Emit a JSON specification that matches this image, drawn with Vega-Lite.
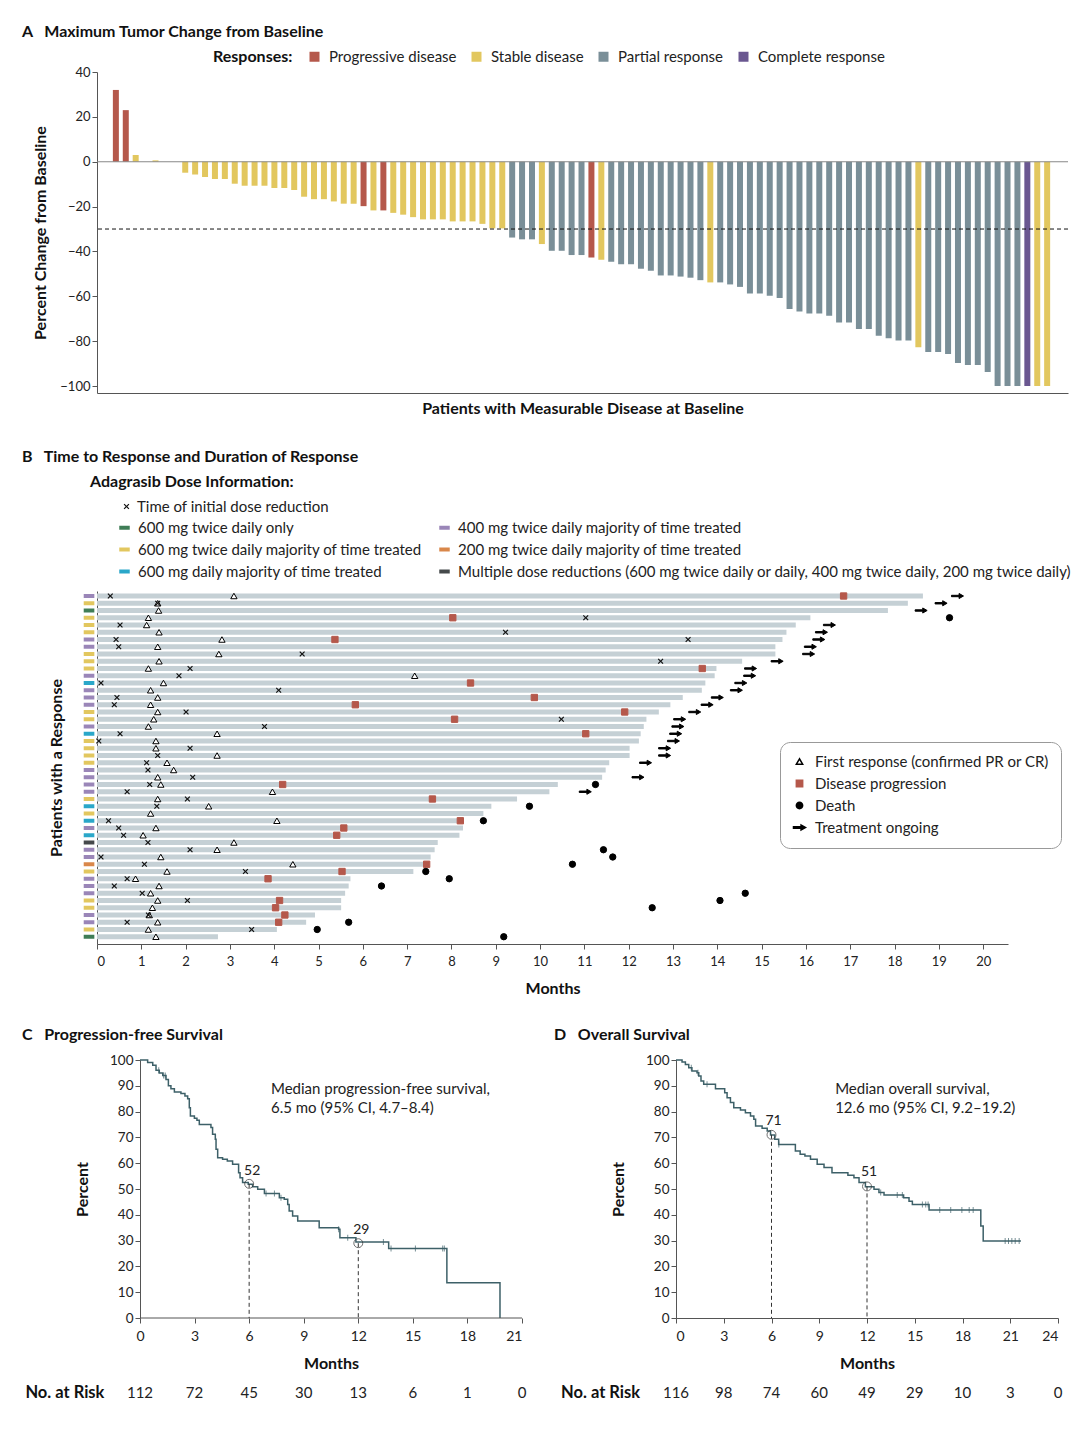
{
"$schema": "https://vega.github.io/schema/vega-lite/v6.json",
"background": "white",
"padding": {"left": 22, "top": 24, "right": 5, "bottom": 5},
"columns": 1,
"spacing": 31,
"align": "none",
"resolve": {"scale": {"color": "independent", "shape": "independent", "fill": "independent", "stroke": "independent", "size": "independent"}},
"config": {
  "font": "Lato",
  "view": {"stroke": null},
  "axis": {"domainColor": "#555", "tickColor": "#555", "labelColor": "#222", "labelFontSize": 13, "titleFontSize": 16, "titleColor": "#111", "titleFontWeight": "bold", "grid": false, "tickSize": 5, "labelOverlap": false, "labelSeparation": 0},
  "axisY": {"labelOverlap": false},
  "axisQuantitative": {"labelOverlap": false},
  "legend": {"labelFontSize": 15, "titleFontSize": 16, "labelColor": "#222", "titleColor": "#111", "titleFontWeight": "bold", "labelLimit": 800, "titleLimit": 800},
  "title": {"fontSize": 16, "fontWeight": "bold", "color": "#111", "anchor": "start", "frame": "group"}
},
"concat": [
{
"columns": 1,
"spacing": 33,
"align": "none",
"resolve": {"scale": {"color": "independent", "shape": "independent", "fill": "independent", "stroke": "independent", "size": "independent"}},
"concat": [
{
  "width": 971, "height": 321,
  "title": {"text": "A\u00a0\u00a0\u00a0Maximum Tumor Change from Baseline", "dx": -75, "offset": 9},
  "layer": [
    {
      "data": {"values": [
        {"idx":1,"val":32,"resp":"Progressive disease"},{"idx":2,"val":23,"resp":"Progressive disease"},{"idx":3,"val":3,"resp":"Stable disease"},{"idx":4,"val":0,"resp":"Stable disease"},{"idx":5,"val":0.6,"resp":"Stable disease"},{"idx":6,"val":0,"resp":"Stable disease"},{"idx":7,"val":0,"resp":"Stable disease"},
        {"idx":8,"val":-4.9,"resp":"Stable disease"},{"idx":9,"val":-5.7,"resp":"Stable disease"},{"idx":10,"val":-6.8,"resp":"Stable disease"},{"idx":11,"val":-7.7,"resp":"Stable disease"},{"idx":12,"val":-7.7,"resp":"Stable disease"},{"idx":13,"val":-9.8,"resp":"Stable disease"},{"idx":14,"val":-10.7,"resp":"Stable disease"},{"idx":15,"val":-10.7,"resp":"Stable disease"},{"idx":16,"val":-10.7,"resp":"Stable disease"},{"idx":17,"val":-11.7,"resp":"Stable disease"},{"idx":18,"val":-11.7,"resp":"Stable disease"},{"idx":19,"val":-12.6,"resp":"Stable disease"},{"idx":20,"val":-15.6,"resp":"Stable disease"},{"idx":21,"val":-16.7,"resp":"Stable disease"},{"idx":22,"val":-16.7,"resp":"Stable disease"},{"idx":23,"val":-17.7,"resp":"Stable disease"},{"idx":24,"val":-18.7,"resp":"Stable disease"},{"idx":25,"val":-18.7,"resp":"Stable disease"},
        {"idx":26,"val":-19.8,"resp":"Progressive disease"},{"idx":27,"val":-21.7,"resp":"Stable disease"},{"idx":28,"val":-21.7,"resp":"Progressive disease"},{"idx":29,"val":-22.8,"resp":"Stable disease"},{"idx":30,"val":-23.6,"resp":"Stable disease"},{"idx":31,"val":-24.7,"resp":"Stable disease"},{"idx":32,"val":-25.7,"resp":"Stable disease"},{"idx":33,"val":-25.7,"resp":"Stable disease"},{"idx":34,"val":-25.7,"resp":"Stable disease"},{"idx":35,"val":-26.6,"resp":"Stable disease"},{"idx":36,"val":-26.6,"resp":"Stable disease"},{"idx":37,"val":-26.6,"resp":"Stable disease"},{"idx":38,"val":-27.7,"resp":"Stable disease"},{"idx":39,"val":-29.7,"resp":"Stable disease"},{"idx":40,"val":-29.7,"resp":"Stable disease"},
        {"idx":41,"val":-33.8,"resp":"Partial response"},{"idx":42,"val":-34.6,"resp":"Partial response"},{"idx":43,"val":-34.6,"resp":"Partial response"},{"idx":44,"val":-36.7,"resp":"Stable disease"},{"idx":45,"val":-39.7,"resp":"Partial response"},{"idx":46,"val":-39.7,"resp":"Partial response"},{"idx":47,"val":-41.6,"resp":"Partial response"},{"idx":48,"val":-41.6,"resp":"Partial response"},{"idx":49,"val":-42.7,"resp":"Progressive disease"},{"idx":50,"val":-43.7,"resp":"Stable disease"},
        {"idx":51,"val":-44.6,"resp":"Partial response"},{"idx":52,"val":-45.7,"resp":"Partial response"},{"idx":53,"val":-45.7,"resp":"Partial response"},{"idx":54,"val":-47.7,"resp":"Partial response"},{"idx":55,"val":-48.6,"resp":"Partial response"},{"idx":56,"val":-50.7,"resp":"Partial response"},{"idx":57,"val":-50.7,"resp":"Partial response"},{"idx":58,"val":-51.2,"resp":"Partial response"},{"idx":59,"val":-51.7,"resp":"Partial response"},{"idx":60,"val":-52.8,"resp":"Partial response"},{"idx":61,"val":-53.8,"resp":"Stable disease"},{"idx":62,"val":-53.8,"resp":"Partial response"},{"idx":63,"val":-54.7,"resp":"Partial response"},{"idx":64,"val":-55.8,"resp":"Partial response"},{"idx":65,"val":-58.7,"resp":"Partial response"},{"idx":66,"val":-58.7,"resp":"Partial response"},{"idx":67,"val":-59.8,"resp":"Partial response"},{"idx":68,"val":-60.7,"resp":"Partial response"},{"idx":69,"val":-65.7,"resp":"Partial response"},{"idx":70,"val":-66.8,"resp":"Partial response"},
        {"idx":71,"val":-67.7,"resp":"Partial response"},{"idx":72,"val":-67.7,"resp":"Partial response"},{"idx":73,"val":-68.7,"resp":"Partial response"},{"idx":74,"val":-71.7,"resp":"Partial response"},{"idx":75,"val":-71.7,"resp":"Partial response"},{"idx":76,"val":-74.6,"resp":"Partial response"},{"idx":77,"val":-74.6,"resp":"Partial response"},{"idx":78,"val":-77.6,"resp":"Partial response"},{"idx":79,"val":-78.7,"resp":"Partial response"},{"idx":80,"val":-79.7,"resp":"Partial response"},{"idx":81,"val":-79.7,"resp":"Partial response"},{"idx":82,"val":-82.7,"resp":"Stable disease"},{"idx":83,"val":-84.8,"resp":"Partial response"},{"idx":84,"val":-84.8,"resp":"Partial response"},{"idx":85,"val":-85.7,"resp":"Partial response"},{"idx":86,"val":-89.7,"resp":"Partial response"},{"idx":87,"val":-90.6,"resp":"Partial response"},{"idx":88,"val":-90.6,"resp":"Partial response"},{"idx":89,"val":-93.7,"resp":"Partial response"},{"idx":90,"val":-100,"resp":"Partial response"},
        {"idx":91,"val":-100,"resp":"Partial response"},{"idx":92,"val":-100,"resp":"Partial response"},{"idx":93,"val":-100,"resp":"Complete response"},{"idx":94,"val":-100,"resp":"Stable disease"},{"idx":95,"val":-100,"resp":"Stable disease"}
      ]},
      "mark": {"type": "bar", "width": 6},
      "encoding": {
        "x": {"field": "idx", "type": "quantitative", "scale": {"domain": [-0.4, 96.6], "nice": false, "zero": false},
              "axis": {"title": "Patients with Measurable Disease at Baseline", "labels": false, "ticks": false, "titlePadding": 7}},
        "y": {"field": "val", "type": "quantitative", "scale": {"domain": [-103.1, 40], "nice": false},
              "axis": {"values": [40, 20, 0, -20, -40, -60, -80, -100], "title": "Percent Change from Baseline", "titlePadding": 11}},
        "y2": {"datum": 0},
        "color": {"field": "resp", "type": "nominal",
          "scale": {"domain": ["Progressive disease", "Stable disease", "Partial response", "Complete response"], "range": ["#b5584b", "#e2c75f", "#7a8f98", "#6a5790"]},
          "legend": {"title": "Responses:", "orient": "none", "legendX": 116, "legendY": -23, "direction": "horizontal", "titleOrient": "left", "symbolType": "square", "symbolSize": 100, "columnPadding": 12, "titlePadding": 14, "labelOffset": 7}}
      }
    },
    {"data": {"values": [{}]}, "mark": {"type": "rule", "color": "#888", "strokeWidth": 1.2}, "encoding": {"y": {"datum": 0}}},
    {"data": {"values": [{}]}, "mark": {"type": "rule", "color": "#111", "strokeDash": [4, 3], "strokeWidth": 1}, "encoding": {"y": {"datum": -30}}}
  ]
},
{
  "width": 911, "height": 353,
  "title": {"text": "B\u00a0\u00a0\u00a0Time to Response and Duration of Response", "dx": -75, "offset": 9},
  "layer": [
    {
      "data": {"name": "patients"},
      "mark": {"type": "rule", "strokeWidth": 5, "color": "#c5d0d5", "strokeCap": "butt"},
      "encoding": {
        "x": {"field": "dur", "type": "quantitative", "scale": {"domain": [0, 20.56], "nice": false, "zero": false},
              "axis": {"values": [0,1,2,3,4,5,6,7,8,9,10,11,12,13,14,15,16,17,18,19,20], "title": "Months", "labelPadding": 6, "titlePadding": 12}},
        "x2": {"datum": 0},
        "y": {"field": "row", "type": "quantitative", "scale": {"domain": [0.31, 49], "reverse": true, "nice": false, "zero": false},
              "axis": {"title": "Patients with a Response", "labels": false, "ticks": false, "titlePadding": 33}}
      }
    },
    {
      "data": {"name": "patients"},
      "mark": {"type": "rule", "strokeWidth": 4, "strokeCap": "butt"},
      "encoding": {
        "x": {"datum": -0.3},
        "x2": {"datum": -0.06},
        "y": {"field": "row", "type": "quantitative"},
        "color": {"field": "dose", "type": "nominal",
          "scale": {"domain": ["g", "y", "c", "p", "o", "m"], "range": ["#3f7d56", "#e2c75f", "#2aa7c9", "#9a86b8", "#d9874a", "#45494b"]},
          "legend": {"title": null, "orient": "none", "legendX": 20, "legendY": -71, "columns": 2, "columnPadding": 8, "rowPadding": 5, "symbolType": "stroke", "symbolStrokeWidth": 4, "symbolSize": 110, "labelOffset": 6,
            "labelExpr": "datum.label == 'g' ? '600 mg twice daily only' : datum.label == 'p' ? '400 mg twice daily majority of time treated' : datum.label == 'y' ? '600 mg twice daily majority of time treated' : datum.label == 'o' ? '200 mg twice daily majority of time treated' : datum.label == 'c' ? '600 mg daily majority of time treated' : 'Multiple dose reductions (600 mg twice daily or daily, 400 mg twice daily, 200 mg twice daily)'"}}
      }
    },
    {
      "data": {"name": "patients"},
      "transform": [{"fold": ["resp", "prog", "death", "ongoing"], "as": ["ev", "t"]}, {"filter": "isValid(datum.t)"}],
      "mark": {"type": "point", "filled": true, "size": 40, "strokeWidth": 1, "opacity": 1},
      "encoding": {
        "x": {"field": "t", "type": "quantitative"},
        "y": {"field": "row", "type": "quantitative"},
        "shape": {"field": "ev", "type": "nominal", "scale": {"domain": ["resp", "prog", "death", "ongoing"], "range": ["triangle-up", "square", "circle", "M-1.9,-0.22L0.5,-0.22L0.5,-0.8L1.9,0L0.5,0.8L0.5,0.22L-1.9,0.22Z"]},
          "legend": {"title": null, "orient": "none", "legendX": 683, "legendY": 151, "strokeColor": "#999", "cornerRadius": 10, "padding": 12, "fillColor": "white", "rowPadding": 6, "symbolSize": 40, "labelOffset": 8,
            "labelExpr": "datum.label == 'resp' ? 'First response (confirmed PR or CR)' : datum.label == 'prog' ? 'Disease progression' : datum.label == 'death' ? 'Death' : 'Treatment ongoing'"}},
        "fill": {"field": "ev", "type": "nominal", "scale": {"domain": ["resp", "prog", "death", "ongoing"], "range": ["white", "#b5584b", "black", "black"]}},
        "stroke": {"field": "ev", "type": "nominal", "scale": {"domain": ["resp", "prog", "death", "ongoing"], "range": ["black", "#b5584b", "black", "black"]}}
      }
    },
    {
      "data": {"values": [
        {"row":1,"t":0.30,"kind":"x"},{"row":2,"t":1.37,"kind":"x"},{"row":4,"t":11.03,"kind":"x"},{"row":5,"t":0.52,"kind":"x"},{"row":6,"t":9.22,"kind":"x"},{"row":7,"t":0.43,"kind":"x"},{"row":7,"t":13.34,"kind":"x"},{"row":8,"t":0.49,"kind":"x"},{"row":9,"t":4.63,"kind":"x"},{"row":10,"t":12.72,"kind":"x"},
        {"row":11,"t":2.10,"kind":"x"},{"row":12,"t":1.85,"kind":"x"},{"row":13,"t":0.09,"kind":"x"},{"row":14,"t":4.10,"kind":"x"},{"row":15,"t":0.45,"kind":"x"},{"row":16,"t":0.39,"kind":"x"},{"row":17,"t":2.01,"kind":"x"},{"row":18,"t":10.48,"kind":"x"},{"row":19,"t":3.78,"kind":"x"},{"row":20,"t":0.52,"kind":"x"},
        {"row":21,"t":0.04,"kind":"x"},{"row":22,"t":2.10,"kind":"x"},{"row":23,"t":1.37,"kind":"x"},{"row":24,"t":1.12,"kind":"x"},{"row":25,"t":1.15,"kind":"x"},{"row":26,"t":2.16,"kind":"x"},{"row":27,"t":1.19,"kind":"x"},{"row":28,"t":0.68,"kind":"x"},{"row":29,"t":2.04,"kind":"x"},{"row":30,"t":1.35,"kind":"x"},
        {"row":32,"t":0.26,"kind":"x"},{"row":33,"t":0.49,"kind":"x"},{"row":34,"t":0.60,"kind":"x"},{"row":35,"t":1.15,"kind":"x"},{"row":36,"t":2.10,"kind":"x"},{"row":37,"t":0.09,"kind":"x"},{"row":38,"t":1.07,"kind":"x"},{"row":39,"t":3.35,"kind":"x"},{"row":40,"t":0.68,"kind":"x"},{"row":41,"t":0.39,"kind":"x"},
        {"row":42,"t":1.02,"kind":"x"},{"row":43,"t":2.04,"kind":"x"},{"row":45,"t":1.16,"kind":"x"},{"row":46,"t":0.68,"kind":"x"},{"row":47,"t":3.49,"kind":"x"}
      ]},
      "mark": {"type": "point", "filled": true, "color": "#111", "shape": "M-1,-0.7L-0.7,-1L0,-0.3L0.7,-1L1,-0.7L0.3,0L1,0.7L0.7,1L0,0.3L-0.7,1L-1,0.7L-0.3,0Z", "opacity": 1},
      "encoding": {
        "x": {"field": "t", "type": "quantitative"},
        "y": {"field": "row", "type": "quantitative"},
        "size": {"field": "kind", "type": "nominal", "scale": {"domain": ["x"], "range": [32, 32]},
          "legend": {"title": "Adagrasib Dose Information:", "orient": "none", "legendX": -7, "legendY": -117, "titlePadding": 9, "symbolOffset": 29, "symbolType": "M-1,-0.7L-0.7,-1L0,-0.3L0.7,-1L1,-0.7L0.3,0L1,0.7L0.7,1L0,0.3L-0.7,1L-1,0.7L-0.3,0Z", "symbolFillColor": "#111", "symbolStrokeWidth": 0, "labelOffset": 3,
            "labelExpr": "'Time of initial dose reduction'"}}
      }
    }
  ]
}
]
},
{
  "hconcat": [
  {
    "width": 425, "height": 258,
    "title": {"text": "C\u00a0\u00a0\u00a0Progression-free Survival", "dx": -75, "offset": 10},
    "layer": [
      {
        "data": {"values": [
          {"t":0,"s":100},{"t":0.42,"s":99},{"t":0.70,"s":98},{"t":0.88,"s":96},{"t":1.06,"s":95},{"t":1.25,"s":94},{"t":1.43,"s":92.4},{"t":1.56,"s":90},{"t":1.70,"s":88.9},{"t":1.89,"s":87.6},{"t":2.25,"s":87},{"t":2.47,"s":86},{"t":2.62,"s":85},{"t":2.71,"s":81.5},{"t":2.77,"s":78.3},{"t":2.99,"s":77.4},{"t":3.13,"s":76.6},{"t":3.26,"s":75},{"t":3.9,"s":73.8},{"t":3.99,"s":71.2},{"t":4.14,"s":69.3},{"t":4.18,"s":65.4},{"t":4.27,"s":62.1},{"t":4.54,"s":61.5},{"t":4.8,"s":60.9},{"t":5.09,"s":59.6},{"t":5.42,"s":56.3},{"t":5.5,"s":54.4},{"t":5.64,"s":52.5},{"t":5.95,"s":51.8},{"t":6.19,"s":50.9},{"t":6.47,"s":49.9},{"t":6.84,"s":48.3},{"t":7.66,"s":46.6},{"t":7.93,"s":46},{"t":8.12,"s":44},{"t":8.2,"s":41.5},{"t":8.39,"s":39.5},{"t":8.67,"s":37.6},{"t":9.85,"s":35},{"t":10.92,"s":34.4},{"t":10.99,"s":31.1},{"t":11.87,"s":29.5},{"t":13.67,"s":26.9},{"t":16.87,"s":13.7},{"t":19.79,"s":0}
        ]},
        "mark": {"type": "line", "interpolate": "step-after", "color": "#3d6068", "strokeWidth": 1.5},
        "encoding": {
          "x": {"field": "t", "type": "quantitative", "scale": {"domain": [-2.364, 21], "nice": false, "zero": false}, "axis": {"values": [0,3,6,9,12,15,18,21], "domain": false, "title": "Months", "titleX": 234, "labelFontSize": 14, "labelPadding": 6, "titlePadding": 12}},
          "y": {"field": "s", "type": "quantitative", "scale": {"domain": [0, 100], "nice": false}, "axis": {"values": [0,10,20,30,40,50,60,70,80,90,100], "tickCount": 11, "labelOverlap": false, "labelSeparation": 0, "labelFontSize": 13.5, "title": "Percent", "offset": -43, "titlePadding": 19}}
        }
      },
      {
        "data": {"values": [{"t0":0,"t1":21,"b":0}]},
        "mark": {"type": "rule", "color": "#555", "strokeWidth": 1},
        "encoding": {"x": {"field": "t0", "type": "quantitative"}, "x2": {"field": "t1"}, "y": {"field": "b", "type": "quantitative"}}
      },
      {
        "data": {"values": [{"t":1.03,"s":96},{"t":1.30,"s":94},{"t":1.39,"s":94},{"t":6.93,"s":48.3},{"t":7.39,"s":48.3},{"t":7.75,"s":46.6},{"t":10.92,"s":34.4},{"t":11.42,"s":31.1},{"t":13.38,"s":29.5},{"t":13.8,"s":26.9},{"t":15.14,"s":26.9},{"t":16.64,"s":26.9},{"t":16.73,"s":26.9}]},
        "mark": {"type": "tick", "orient": "vertical", "size": 6, "thickness": 1, "color": "#3d6068"},
        "encoding": {"x": {"field": "t", "type": "quantitative"}, "y": {"field": "s", "type": "quantitative"}}
      },
      {
        "data": {"values": [{"t":6,"s":52,"z":0},{"t":12,"s":29,"z":0}]},
        "mark": {"type": "rule", "strokeDash": [4, 3], "color": "#333", "strokeWidth": 1},
        "encoding": {"x": {"field": "t", "type": "quantitative"}, "y": {"field": "s", "type": "quantitative"}, "y2": {"field": "z"}}
      },
      {
        "data": {"values": [{"t":6,"s":52},{"t":12,"s":29}]},
        "mark": {"type": "point", "shape": "circle", "size": 80, "filled": false, "color": "#333", "strokeWidth": 1},
        "encoding": {"x": {"field": "t", "type": "quantitative"}, "y": {"field": "s", "type": "quantitative"}}
      },
      {
        "data": {"values": [{"t":6,"s":52,"lab":"52"},{"t":12,"s":29,"lab":"29"}]},
        "mark": {"type": "text", "dy": -13, "dx": 3, "fontSize": 14, "color": "#222"},
        "encoding": {"x": {"field": "t", "type": "quantitative"}, "y": {"field": "s", "type": "quantitative"}, "text": {"field": "lab"}}
      },
      {
        "data": {"values": [{"t":7.2,"s":91.5,"txt":"Median progression-free survival,\n6.5 mo (95% CI, 4.7–8.4)"}]},
        "mark": {"type": "text", "align": "left", "baseline": "top", "lineBreak": "\n", "fontSize": 15, "lineHeight": 19, "color": "#222"},
        "encoding": {"x": {"field": "t", "type": "quantitative"}, "y": {"field": "s", "type": "quantitative"}, "text": {"field": "txt"}}
      },
      {
        "data": {"values": [{"t":0,"n":"112","r":-29},{"t":3,"n":"72","r":-29},{"t":6,"n":"45","r":-29},{"t":9,"n":"30","r":-29},{"t":12,"n":"13","r":-29},{"t":15,"n":"6","r":-29},{"t":18,"n":"1","r":-29},{"t":21,"n":"0","r":-29}]},
        "mark": {"type": "text", "fontSize": 15, "color": "#222", "baseline": "middle"},
        "encoding": {"x": {"field": "t", "type": "quantitative"}, "y": {"field": "r", "type": "quantitative"}, "text": {"field": "n"}}
      },
      {
        "data": {"values": [{"t":-6.3,"r":-29,"lab":"No. at Risk"}]},
        "mark": {"type": "text", "fontSize": 16.5, "fontWeight": "bold", "color": "#111", "align": "left", "baseline": "middle"},
        "encoding": {"x": {"field": "t", "type": "quantitative"}, "y": {"field": "r", "type": "quantitative"}, "text": {"field": "lab"}}
      }
    ]
  },
  {
    "width": 382, "height": 258,
    "title": {"text": "D\u00a0\u00a0\u00a0Overall Survival", "dx": -122, "offset": 10},
    "layer": [
      {
        "data": {"values": [
          {"t":0,"s":100},{"t":0.38,"s":99.2},{"t":0.59,"s":98.3},{"t":0.8,"s":97},{"t":1.0,"s":95.7},{"t":1.32,"s":95.1},{"t":1.43,"s":93.8},{"t":1.57,"s":91.9},{"t":1.74,"s":90.6},{"t":2.48,"s":88.9},{"t":3.06,"s":87.3},{"t":3.21,"s":85.4},{"t":3.42,"s":83.5},{"t":3.63,"s":81.5},{"t":4.05,"s":80.6},{"t":4.36,"s":79.6},{"t":4.68,"s":78.3},{"t":4.89,"s":77},{"t":5.0,"s":74.4},{"t":5.41,"s":73.5},{"t":5.73,"s":72.5},{"t":5.94,"s":70.9},{"t":6.2,"s":69.3},{"t":6.45,"s":67.2},{"t":7.5,"s":64.7},{"t":7.8,"s":63.5},{"t":8.1,"s":62.8},{"t":8.45,"s":61.5},{"t":8.87,"s":59.6},{"t":9.3,"s":58.3},{"t":9.8,"s":56.3},{"t":10.8,"s":55.3},{"t":11.18,"s":54.4},{"t":11.5,"s":52.5},{"t":11.9,"s":50.9},{"t":12.44,"s":49.9},{"t":12.75,"s":48.6},{"t":13.07,"s":47.7},{"t":14.3,"s":46.6},{"t":14.64,"s":45.3},{"t":14.85,"s":44},{"t":15.9,"s":41.9},{"t":19.15,"s":35.7},{"t":19.3,"s":29.8},{"t":21.67,"s":29.8}
        ]},
        "mark": {"type": "line", "interpolate": "step-after", "color": "#3d6068", "strokeWidth": 1.5},
        "encoding": {
          "x": {"field": "t", "type": "quantitative", "scale": {"domain": [0, 24], "nice": false}, "axis": {"values": [0,3,6,9,12,15,18,21,24], "title": "Months", "labelFontSize": 14, "labelPadding": 6, "titlePadding": 12}},
          "y": {"field": "s", "type": "quantitative", "scale": {"domain": [0, 100], "nice": false}, "axis": {"values": [0,10,20,30,40,50,60,70,80,90,100], "tickCount": 11, "labelOverlap": false, "labelSeparation": 0, "labelFontSize": 13.5, "title": "Percent", "titlePadding": 19}}
        }
      },
      {
        "data": {"values": [{"t":0.96,"s":97},{"t":1.38,"s":95.1},{"t":1.95,"s":90.6},{"t":6.46,"s":67.2},{"t":12.86,"s":48.6},{"t":13.9,"s":47.7},{"t":14.22,"s":47.7},{"t":15.48,"s":44},{"t":15.69,"s":44},{"t":15.84,"s":44},{"t":16.57,"s":41.9},{"t":17.26,"s":41.9},{"t":17.96,"s":41.9},{"t":18.42,"s":41.9},{"t":18.67,"s":41.9},{"t":20.68,"s":29.8},{"t":20.89,"s":29.8},{"t":21.1,"s":29.8},{"t":21.31,"s":29.8},{"t":21.56,"s":29.8}]},
        "mark": {"type": "tick", "orient": "vertical", "size": 6, "thickness": 1, "color": "#3d6068"},
        "encoding": {"x": {"field": "t", "type": "quantitative"}, "y": {"field": "s", "type": "quantitative"}}
      },
      {
        "data": {"values": [{"t":6,"s":71,"z":0},{"t":12,"s":51,"z":0}]},
        "mark": {"type": "rule", "strokeDash": [4, 3], "color": "#333", "strokeWidth": 1},
        "encoding": {"x": {"field": "t", "type": "quantitative"}, "y": {"field": "s", "type": "quantitative"}, "y2": {"field": "z"}}
      },
      {
        "data": {"values": [{"t":6,"s":71},{"t":12,"s":51}]},
        "mark": {"type": "point", "shape": "circle", "size": 80, "filled": false, "color": "#333", "strokeWidth": 1},
        "encoding": {"x": {"field": "t", "type": "quantitative"}, "y": {"field": "s", "type": "quantitative"}}
      },
      {
        "data": {"values": [{"t":6,"s":71,"lab":"71"},{"t":12,"s":51,"lab":"51"}]},
        "mark": {"type": "text", "dy": -14, "dx": 2, "fontSize": 14, "color": "#222"},
        "encoding": {"x": {"field": "t", "type": "quantitative"}, "y": {"field": "s", "type": "quantitative"}, "text": {"field": "lab"}}
      },
      {
        "data": {"values": [{"t":10.0,"s":91.5,"txt":"Median overall survival,\n12.6 mo (95% CI, 9.2–19.2)"}]},
        "mark": {"type": "text", "align": "left", "baseline": "top", "lineBreak": "\n", "fontSize": 15, "lineHeight": 19, "color": "#222"},
        "encoding": {"x": {"field": "t", "type": "quantitative"}, "y": {"field": "s", "type": "quantitative"}, "text": {"field": "txt"}}
      },
      {
        "data": {"values": [{"t":0,"n":"116","r":-29},{"t":3,"n":"98","r":-29},{"t":6,"n":"74","r":-29},{"t":9,"n":"60","r":-29},{"t":12,"n":"49","r":-29},{"t":15,"n":"29","r":-29},{"t":18,"n":"10","r":-29},{"t":21,"n":"3","r":-29},{"t":24,"n":"0","r":-29}]},
        "mark": {"type": "text", "fontSize": 15, "color": "#222", "baseline": "middle"},
        "encoding": {"x": {"field": "t", "type": "quantitative"}, "y": {"field": "r", "type": "quantitative"}, "text": {"field": "n"}}
      },
      {
        "data": {"values": [{"t":-7.22,"r":-29,"lab":"No. at Risk"}]},
        "mark": {"type": "text", "fontSize": 16.5, "fontWeight": "bold", "color": "#111", "align": "left", "baseline": "middle"},
        "encoding": {"x": {"field": "t", "type": "quantitative"}, "y": {"field": "r", "type": "quantitative"}, "text": {"field": "lab"}}
      }
    ]
  }
  ],
  "spacing": 27
}
],
"datasets": {
  "patients": [
    {"row":1,"dose":"p","dur":18.64,"resp":3.09,"prog":16.85,"ongoing":19.42},
    {"row":2,"dose":"y","dur":18.3,"resp":1.37,"ongoing":19.05},
    {"row":3,"dose":"g","dur":17.85,"resp":1.39,"ongoing":18.6},
    {"row":4,"dose":"y","dur":16.1,"resp":1.16,"prog":8.03,"death":19.24},
    {"row":5,"dose":"y","dur":15.77,"resp":1.12,"ongoing":16.53},
    {"row":6,"dose":"y","dur":15.56,"resp":1.4,"ongoing":16.35},
    {"row":7,"dose":"p","dur":15.47,"resp":2.82,"prog":5.37,"ongoing":16.29},
    {"row":8,"dose":"p","dur":15.31,"resp":1.37,"ongoing":16.1},
    {"row":9,"dose":"y","dur":15.31,"resp":2.75,"ongoing":16.06},
    {"row":10,"dose":"y","dur":14.56,"resp":1.4,"ongoing":15.35},
    {"row":11,"dose":"y","dur":13.98,"resp":1.16,"prog":13.66,"ongoing":14.75},
    {"row":12,"dose":"p","dur":13.94,"resp":7.17,"ongoing":14.73},
    {"row":13,"dose":"c","dur":13.73,"resp":1.5,"prog":8.43,"ongoing":14.53},
    {"row":14,"dose":"p","dur":13.65,"resp":1.21,"ongoing":14.43},
    {"row":15,"dose":"p","dur":13.22,"resp":1.37,"prog":9.87,"ongoing":14.0},
    {"row":16,"dose":"p","dur":12.94,"resp":1.21,"prog":5.83,"ongoing":13.77},
    {"row":17,"dose":"y","dur":12.68,"resp":1.37,"prog":11.91,"ongoing":13.49},
    {"row":18,"dose":"y","dur":12.4,"resp":1.28,"prog":8.07,"ongoing":13.15},
    {"row":19,"dose":"p","dur":12.34,"resp":1.16,"ongoing":13.11},
    {"row":20,"dose":"c","dur":12.27,"resp":2.71,"prog":11.03,"ongoing":13.06},
    {"row":21,"dose":"y","dur":12.23,"resp":1.33,"ongoing":13.01},
    {"row":22,"dose":"y","dur":12.02,"resp":1.33,"ongoing":12.81},
    {"row":23,"dose":"y","dur":12.02,"resp":2.71,"ongoing":12.81},
    {"row":24,"dose":"y","dur":11.56,"resp":1.58,"ongoing":12.38},
    {"row":25,"dose":"p","dur":11.48,"resp":1.73},
    {"row":26,"dose":"p","dur":11.4,"resp":1.37,"ongoing":12.21},
    {"row":27,"dose":"p","dur":10.4,"resp":1.44,"prog":4.19,"death":11.25},
    {"row":28,"dose":"p","dur":10.21,"resp":3.96,"ongoing":11.02},
    {"row":29,"dose":"y","dur":9.48,"resp":1.37,"prog":7.57},
    {"row":30,"dose":"c","dur":8.9,"resp":2.52,"death":9.76},
    {"row":31,"dose":"y","dur":8.72,"resp":1.21},
    {"row":32,"dose":"c","dur":8.25,"resp":4.06,"prog":8.2,"death":8.72},
    {"row":33,"dose":"p","dur":8.26,"resp":1.33,"prog":5.57},
    {"row":34,"dose":"c","dur":8.18,"resp":1.04,"prog":5.41},
    {"row":35,"dose":"m","dur":7.69,"resp":3.09},
    {"row":36,"dose":"p","dur":7.62,"resp":2.71,"death":11.43},
    {"row":37,"dose":"p","dur":7.53,"resp":1.44,"death":11.64},
    {"row":38,"dose":"o","dur":7.42,"resp":4.42,"prog":7.44,"death":10.73},
    {"row":39,"dose":"y","dur":7.14,"resp":1.58,"prog":5.53,"death":7.42},
    {"row":40,"dose":"p","dur":5.72,"resp":0.87,"prog":3.86,"death":7.95},
    {"row":41,"dose":"p","dur":5.68,"resp":1.4,"death":6.42},
    {"row":42,"dose":"p","dur":5.6,"resp":1.21,"death":14.63},
    {"row":43,"dose":"y","dur":5.51,"resp":1.37,"prog":4.12,"death":14.06},
    {"row":44,"dose":"y","dur":5.51,"resp":1.25,"prog":4.03,"death":12.53},
    {"row":45,"dose":"p","dur":4.92,"resp":1.18,"prog":4.24},
    {"row":46,"dose":"p","dur":4.72,"resp":1.37,"prog":4.1,"death":5.68},
    {"row":47,"dose":"y","dur":4.06,"resp":1.16,"death":4.97},
    {"row":48,"dose":"g","dur":2.73,"resp":1.33,"death":9.18}
  ]
}
}
